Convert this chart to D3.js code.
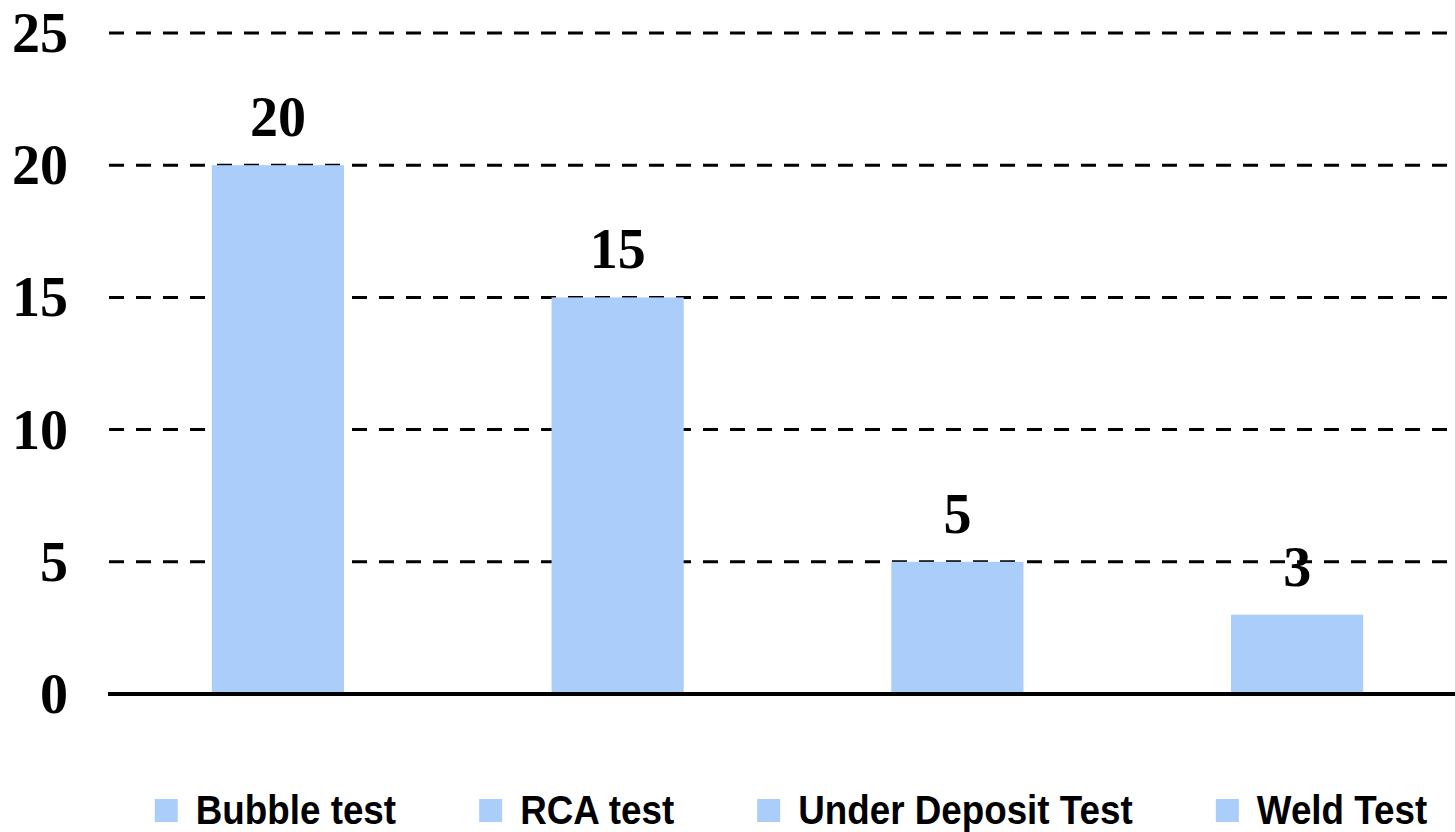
<!DOCTYPE html>
<html>
<head>
<meta charset="utf-8">
<script src="https://cdn.jsdelivr.net/npm/d3@7"></script>
<style>
  html, body { margin: 0; padding: 0; background: #fff; }
  svg { display: block; }
</style>
</head>
<body>
<svg id="chart" width="1455" height="832"></svg>
<script>
const categories = ["Bubble test", "RCA test", "Under Deposit Test", "Weld Test"];
const values = [20, 15, 5, 3];
const yTicks = [0, 5, 10, 15, 20, 25];
const barColor = "#abcdfa";

const W = 1455, H = 832;
const svg = d3.select("#chart");

const x = d3.scaleBand()
  .domain(categories)
  .range([108, 1467])
  .paddingInner(0.611)
  .paddingOuter(0.3055);

const y = d3.scaleLinear()
  .domain([0, 25])
  .range([694, 33]);

const serif = "'Liberation Serif', 'Times New Roman', serif";
const sans = "'Liberation Sans', Arial, sans-serif";

// gridlines
svg.append("g")
  .selectAll("line")
  .data(yTicks.filter(d => d > 0))
  .join("line")
  .attr("x1", 109).attr("x2", W)
  .attr("y1", d => y(d)).attr("y2", d => y(d))
  .attr("stroke", "#000")
  .attr("stroke-width", 3)
  .attr("stroke-dasharray", "15,12");

// y axis labels
const yAxis = d3.axisLeft(y).tickValues(yTicks).tickSize(0).tickPadding(0).tickFormat(d3.format("d"));
const gy = svg.append("g").attr("transform", "translate(68,0)").call(yAxis);
gy.select(".domain").remove();
gy.selectAll("text")
  .attr("font-family", serif)
  .attr("font-weight", "bold")
  .attr("font-size", 56)
  .attr("fill", "#000")
  .attr("dy", "0.33em");

// bars
svg.append("g")
  .selectAll("rect")
  .data(values)
  .join("rect")
  .attr("x", (d, i) => x(categories[i]))
  .attr("width", x.bandwidth())
  .attr("y", d => y(d))
  .attr("height", d => y(0) - y(d))
  .attr("fill", barColor);

// baseline axis
svg.append("line")
  .attr("x1", 108).attr("x2", W)
  .attr("y1", y(0)).attr("y2", y(0))
  .attr("stroke", "#000")
  .attr("stroke-width", 4);

// value labels
svg.append("g")
  .selectAll("text")
  .data(values)
  .join("text")
  .attr("x", (d, i) => x(categories[i]) + x.bandwidth() / 2)
  .attr("y", d => y(d) - 29)
  .attr("text-anchor", "middle")
  .attr("font-family", serif)
  .attr("font-weight", "bold")
  .attr("font-size", 56)
  .attr("fill", "#000")
  .text(d => d);

// legend
const sx = 0.92;
const lg = svg.append("g");
const items = lg.selectAll("g")
  .data(categories)
  .join("g");
items.append("rect")
  .attr("width", 23).attr("height", 23)
  .attr("y", 799)
  .attr("fill", barColor);
items.append("text")
  .attr("font-family", sans)
  .attr("font-weight", "bold")
  .attr("font-size", 40)
  .attr("fill", "#000")
  .text(d => d);

const sq = 23, gapText = 18, gapItem = 83;
let widths = [];
items.each(function() {
  widths.push(d3.select(this).select("text").node().getComputedTextLength() * sx);
});
const total = widths.reduce((a, w) => a + sq + gapText + w, 0) + gapItem * (categories.length - 1);
let cx = 791 - total / 2;
items.each(function(d, i) {
  const g = d3.select(this);
  g.select("rect").attr("x", cx);
  g.select("text").attr("transform", `translate(${cx + sq + gapText},824) scale(${sx},1)`);
  cx += sq + gapText + widths[i] + gapItem;
});
</script>
</body>
</html>
